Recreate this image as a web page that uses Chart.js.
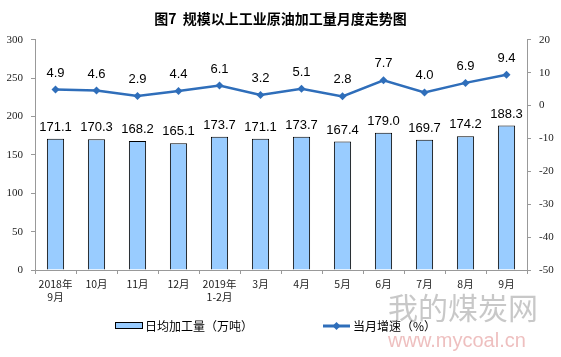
<!DOCTYPE html>
<html><head><meta charset="utf-8">
<script src="https://cdn.jsdelivr.net/npm/chart.js@4/dist/chart.umd.min.js"></script>
<style>html,body{margin:0;padding:0;background:#fff}#wrap{width:561px;height:357px}</style>
</head><body><div id="wrap"><canvas id="c" width="561" height="357"></canvas></div>
<script>
const categories = [['2018年','9月'],'10月','11月','12月',['2019年','1-2月'],'3月','4月','5月','6月','7月','8月','9月'];
const dailyOutput = [171.1,170.3,168.2,165.1,173.7,171.1,173.7,167.4,179.0,169.7,174.2,188.3];
const monthGrowth = [4.9,4.6,2.9,4.4,6.1,3.2,5.1,2.8,7.7,4.0,6.9,9.4];
const leftTicks = [0,50,100,150,200,250,300];
const rightTicks = [-50,-40,-30,-20,-10,0,10,20];
const titleText = '图7  规模以上工业原油加工量月度走势图';
const barLegend = '日均加工量（万吨）';
const lineLegend = '当月增速（%）';

const BAR_COLOR = '#99CCFF', LINE_COLOR = '#2F6EBA';

const labelPlugin = {
  id: 'valueLabels',
  afterDatasetsDraw(chart) {
    const ctx = chart.ctx;
    ctx.save();
    ctx.font = '13px "Liberation Sans", Arial, sans-serif';
    ctx.fillStyle = '#000';
    ctx.textAlign = 'center';
    ctx.textBaseline = 'bottom';
    chart.getDatasetMeta(1).data.forEach((el, i) => {
      ctx.fillText(dailyOutput[i].toFixed(1), el.x, el.y - 5);
    });
    chart.getDatasetMeta(0).data.forEach((el, i) => {
      ctx.fillText(monthGrowth[i].toFixed(1), el.x, el.y - 10);
    });
    ctx.restore();
  },
  afterDraw(chart) {
    const ctx = chart.ctx;
    ctx.save();
    // legend: bar
    ctx.fillStyle = BAR_COLOR; ctx.strokeStyle = '#000'; ctx.lineWidth = 1;
    ctx.fillRect(115.5, 322.5, 27, 6); ctx.strokeRect(115.5, 322.5, 27, 6);
    ctx.font = '12px "Noto Sans CJK SC", sans-serif';
    ctx.fillStyle = '#000'; ctx.textBaseline = 'middle'; ctx.textAlign = 'left';
    ctx.fillText(barLegend, 145, 326);
    // legend: line
    ctx.strokeStyle = LINE_COLOR; ctx.lineWidth = 3;
    ctx.beginPath(); ctx.moveTo(323, 326); ctx.lineTo(350, 326); ctx.stroke();
    ctx.fillStyle = LINE_COLOR;
    ctx.beginPath(); ctx.moveTo(336.5, 322); ctx.lineTo(340.5, 326); ctx.lineTo(336.5, 330); ctx.lineTo(332.5, 326); ctx.closePath(); ctx.fill();
    ctx.fillStyle = '#000';
    ctx.fillText(lineLegend, 353, 326);
    // watermark
    ctx.globalAlpha = 0.55;
    ctx.fillStyle = '#9a9a9a';
    ctx.font = '30px "Noto Sans CJK SC", sans-serif';
    ctx.textBaseline = 'middle';
    ctx.fillText('我的煤炭网', 388, 308);
    ctx.fillStyle = '#e08a8a';
    ctx.font = '20px "Liberation Sans", sans-serif';
    ctx.fillText('www.mycoal.cn', 388, 341);
    ctx.restore();
  }
};

new Chart(document.getElementById('c'), {
  data: {
    labels: categories,
    datasets: [
      { type: 'line', label: lineLegend, data: monthGrowth, yAxisID: 'y2', borderColor: LINE_COLOR, backgroundColor: LINE_COLOR,
        borderWidth: 2.5, pointStyle: 'rectRot', pointRadius: 4, pointBorderWidth: 0, tension: 0, order: 0 },
      { type: 'bar', label: barLegend, data: dailyOutput, yAxisID: 'y', backgroundColor: BAR_COLOR, borderColor: '#000',
        borderWidth: 1, categoryPercentage: 1, barPercentage: 0.42, order: 1 }
    ]
  },
  options: {
    responsive: false, animation: false, devicePixelRatio: 1,
    layout: { padding: { top: 0, bottom: 47, left: 0, right: 0 } },
    plugins: {
      legend: { display: false }, tooltip: { enabled: false },
      title: { display: true, text: titleText, color: '#000',
        font: { family: '"Noto Sans CJK SC", sans-serif', size: 14, weight: 'bold' }, padding: { top: 10, bottom: 13 } }
    },
    scales: {
      x: { offset: true,
        grid: { display: true, drawOnChartArea: false, offset: true, tickLength: 4, color: '#999' },
        border: { color: '#999' },
        ticks: { color: '#222', font: { family: '"Noto Sans CJK SC", sans-serif', size: 10.5 }, padding: 4, maxRotation: 0, autoSkip: false },
        afterFit(s) { s.height = 40; } },
      y: { position: 'left', min: 0, max: 300,
        afterBuildTicks(s) { s.ticks = leftTicks.map(v => ({ value: v })); },
        grid: { drawOnChartArea: false, tickLength: 4, color: '#999' }, border: { color: '#999' },
        ticks: { color: '#222', font: { family: '"Liberation Serif", serif', size: 11 }, padding: 8 },
        afterFit(s) { s.width = 35; } },
      y2: { position: 'right', min: -50, max: 20,
        afterBuildTicks(s) { s.ticks = rightTicks.map(v => ({ value: v })); },
        grid: { drawOnChartArea: false, tickLength: 4, color: '#999' }, border: { color: '#999' },
        ticks: { color: '#222', font: { family: '"Liberation Serif", serif', size: 11 }, padding: 8 },
        afterFit(s) { s.width = 34; } }
    }
  },
  plugins: [labelPlugin]
});
</script></body></html>
